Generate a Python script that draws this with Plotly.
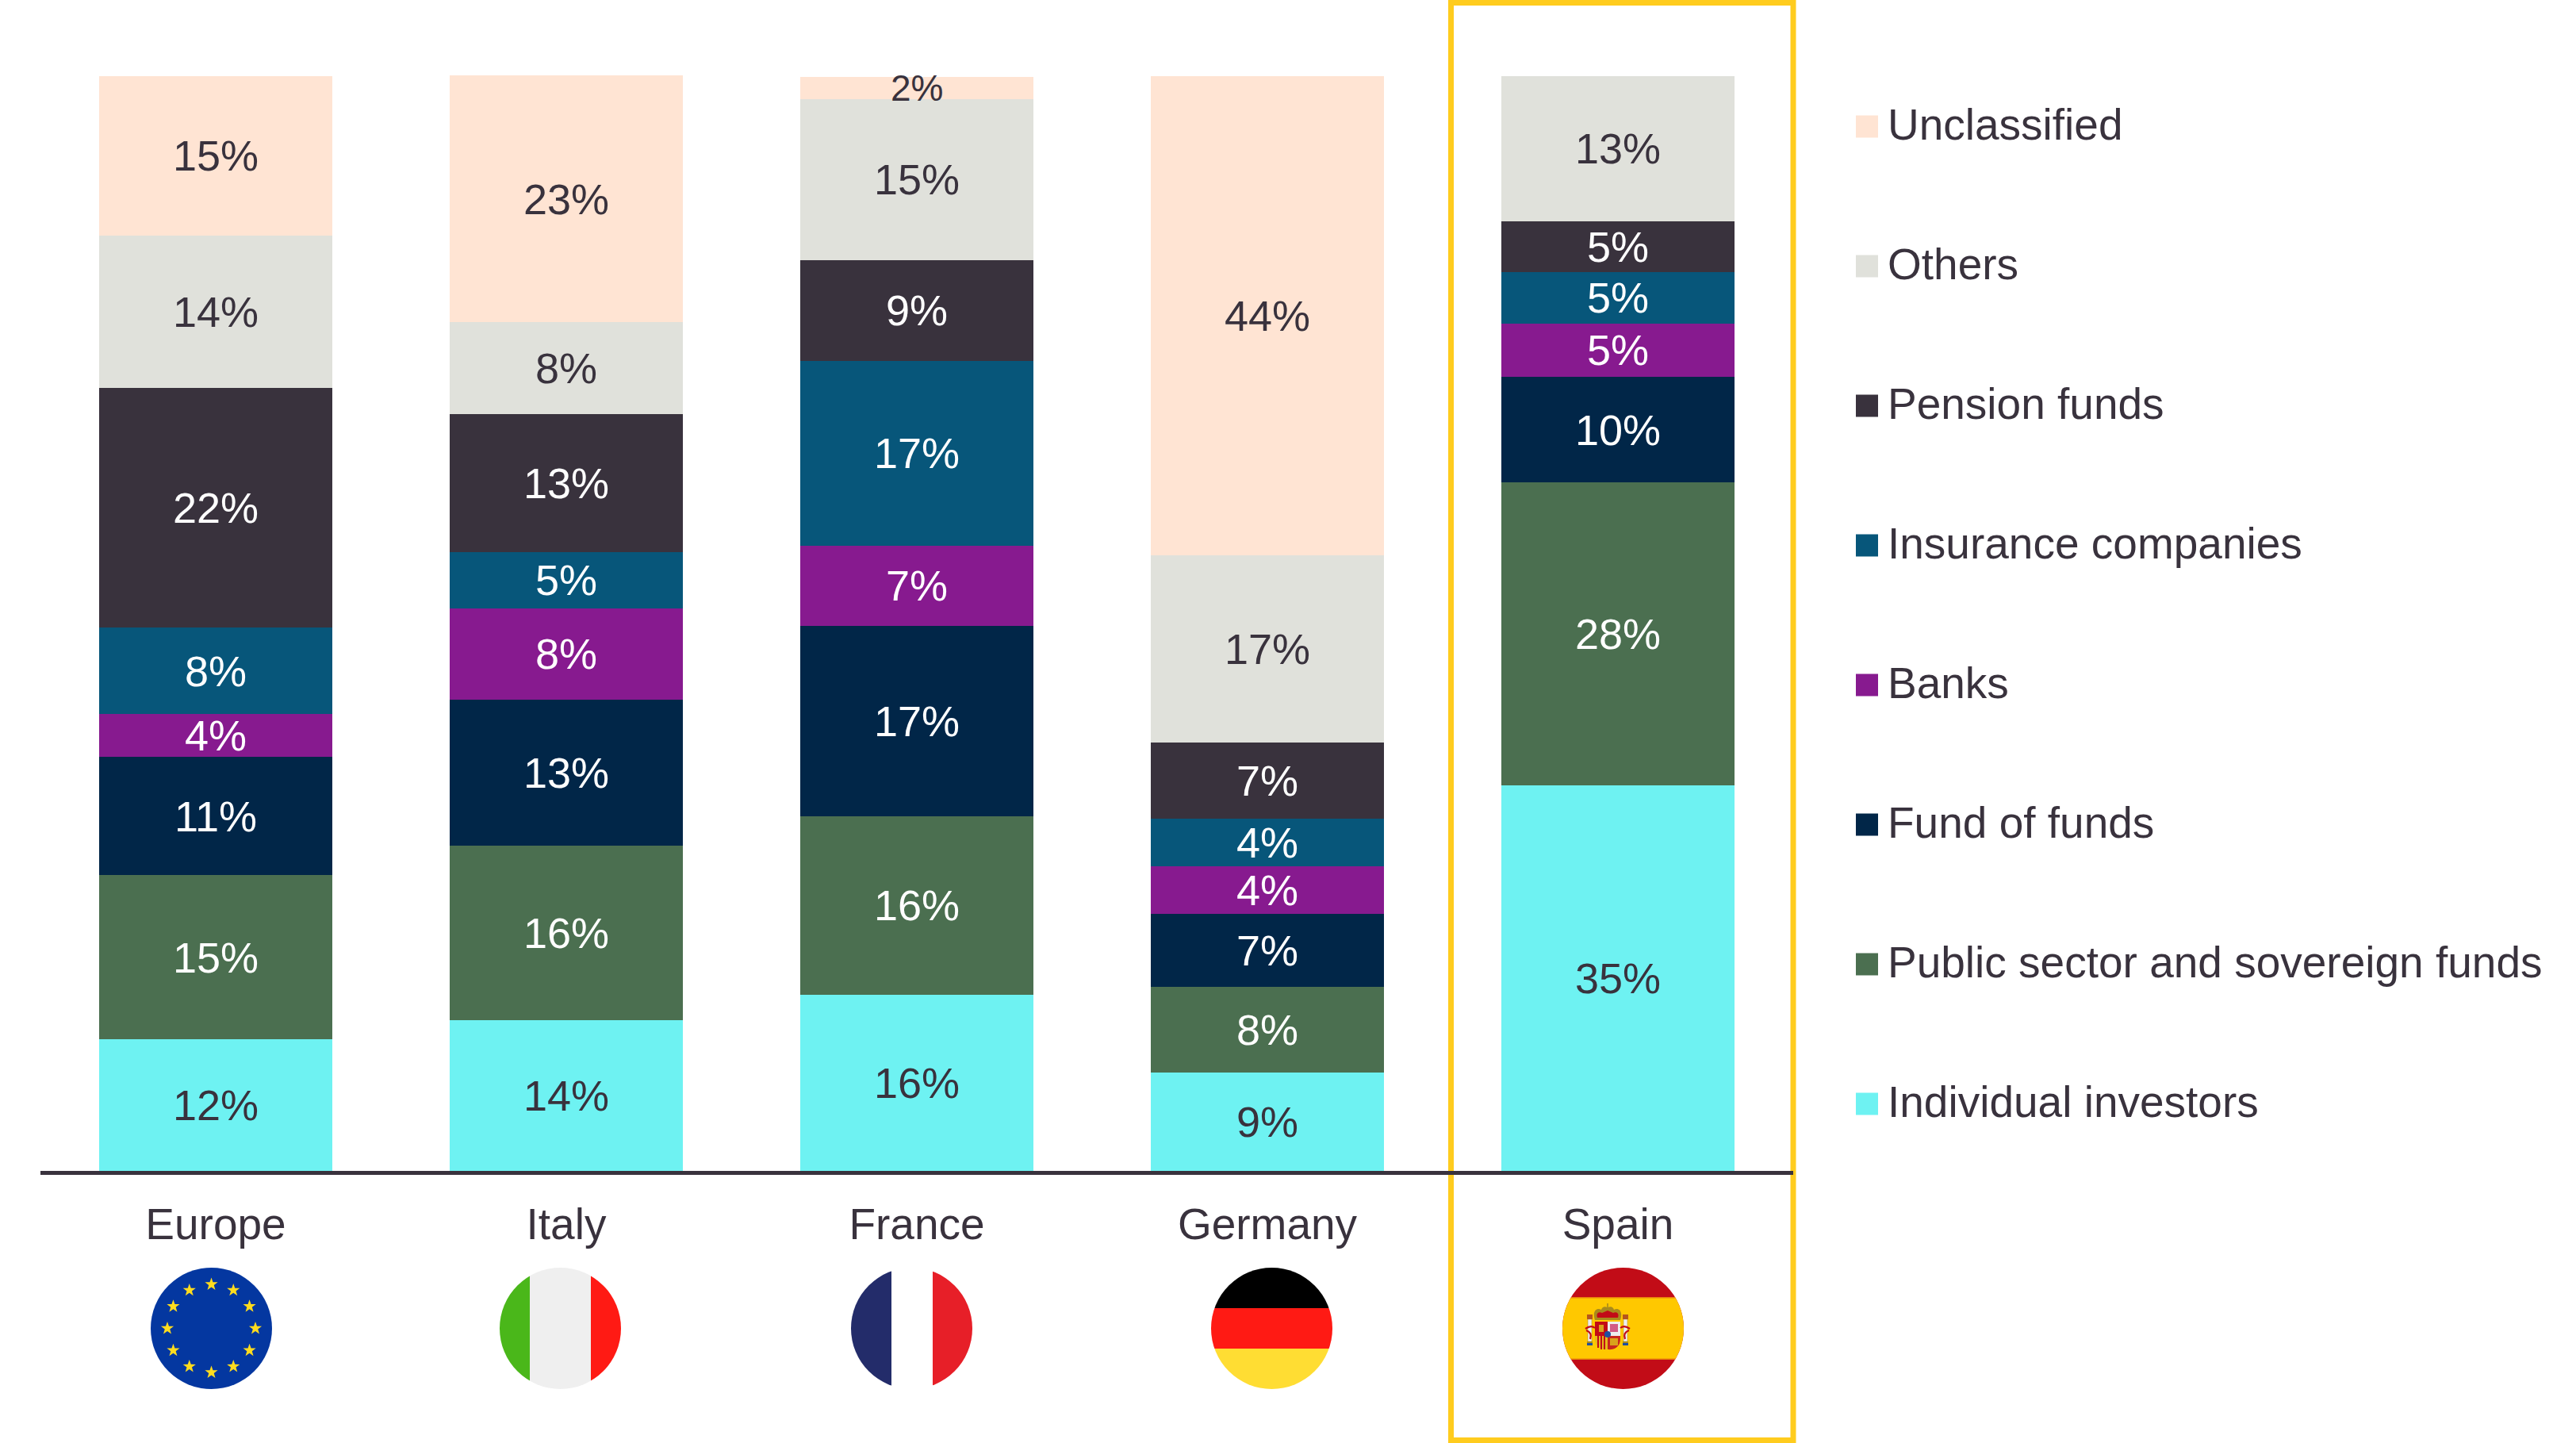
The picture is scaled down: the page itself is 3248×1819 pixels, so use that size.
import base64
import math
import plotly.graph_objects as go

W, H = 3248, 1819
FONT = "Liberation Sans"
INK = "#39323d"

# Data (share of holdings, %)
countries = ["Europe", "Italy", "France", "Germany", "Spain"]
individual = [12.0, 13.8, 16.1, 9.0, 35.2]
public_sector = [15.0, 15.9, 16.3, 7.8, 27.7]
fund_of_funds = [10.8, 13.3, 17.4, 6.7, 9.6]
banks = [3.9, 8.4, 7.3, 4.3, 4.9]
insurance = [7.9, 5.1, 16.9, 4.4, 4.7]
pension = [21.9, 12.6, 9.2, 6.9, 4.6]
others = [13.9, 8.4, 14.7, 17.1, 13.3]
unclassified = [14.6, 22.52, 2.0, 43.8, 0]

series_names = ["Individual investors", "Public sector and sovereign funds", "Fund of funds", "Banks",
                "Insurance companies", "Pension funds", "Others", "Unclassified"]
series_values = [individual, public_sector, fund_of_funds, banks, insurance, pension, others, unclassified]
series_colors = ["#6ef2f2", "#4b6f50", "#012648", "#871a8f", "#07567a", "#39323d", "#e0e1db", "#ffe4d3"]
label_colors = [INK, "white", "white", "white", "white", "white", INK, INK]


def px_x(x):
    return x / W


def px_y(y):
    return 1 - y / H


fig = go.Figure()

# Stacked bars
# segments too thin for the 54px label get a smaller annotation further down
SMALL_SEGMENT = 3
for name, values, color, label_color in zip(series_names, series_values, series_colors, label_colors):
    fig.add_trace(go.Bar(
        x=countries,
        y=values,
        name=name,
        marker=dict(color=color, line=dict(width=0)),
        text=[f"{v:.0f}%" if v > SMALL_SEGMENT else "" for v in values],
        textposition="inside",
        insidetextanchor="middle",
        textangle=0,
        textfont=dict(color=label_color, size=54, family=FONT),
        cliponaxis=False,
        showlegend=False,
    ))

annotations = []
for i, country in enumerate(countries):
    base = 0
    for values in series_values:
        v = values[i]
        if 0 < v <= SMALL_SEGMENT:
            annotations.append(dict(x=country, y=base + v / 2, xref="x", yref="y", text=f"{v:.0f}%", showarrow=False,
                                    font=dict(size=46, color=INK, family=FONT)))
        base += v

# Legend drawn on its own axes so the swatches can be as large as in the original
fig.add_trace(go.Scatter(
    x=[0] * len(series_names),
    y=series_names,
    mode="markers",
    marker=dict(symbol="square", size=28, color=series_colors, line=dict(width=0)),
    xaxis="x2",
    yaxis="y2",
    cliponaxis=False,
    showlegend=False,
))
for name in series_names:
    annotations.append(dict(x=24, y=name, xref="x2", yref="y2", text=name, showarrow=False, xanchor="left",
                            yshift=3, font=dict(size=55, color=INK, family=FONT)))


def circle_svg(body):
    svg = ('<svg xmlns="http://www.w3.org/2000/svg" width="306" height="306" viewBox="0 0 153 153">'
           '<defs><clipPath id="c"><circle cx="76.5" cy="76.5" r="76.5"/></clipPath></defs>'
           f'<g clip-path="url(#c)">{body}</g></svg>')
    return "data:image/svg+xml;base64," + base64.b64encode(svg.encode()).decode()


def star(cx, cy, r, color):
    pts = []
    for i in range(10):
        rad = r if i % 2 == 0 else r * 0.4
        a = -math.pi / 2 + i * math.pi / 5
        pts.append(f"{cx + rad * math.cos(a):.2f},{cy + rad * math.sin(a):.2f}")
    return f'<polygon points="{" ".join(pts)}" fill="{color}"/>'


eu_body = '<rect width="153" height="153" fill="#0437a0"/>'
for k in range(12):
    a = k * math.pi / 6
    eu_body += star(76.5 + 55.5 * math.sin(a), 76.5 - 55.5 * math.cos(a), 8.5, "#ffdc1e")

italy_body = ('<rect width="38" height="153" fill="#4ab71a"/><rect x="38" width="77" height="153" fill="#efefef"/>'
              '<rect x="115" width="38" height="153" fill="#ff1a14"/>')
france_body = ('<rect width="51" height="153" fill="#232c6a"/><rect x="51" width="52" height="153" fill="#ffffff"/>'
               '<rect x="103" width="50" height="153" fill="#e71f28"/>')
germany_body = ('<rect width="153" height="51" fill="#000000"/><rect y="51" width="153" height="51" fill="#ff1a14"/>'
                '<rect y="102" width="153" height="51" fill="#ffdd33"/>')
# Spanish crest kept simple: crown, quartered shield, two pillars
spain_body = ('<rect width="153" height="153" fill="#c20c17"/>'
              '<rect y="38" width="153" height="77" fill="#ffc800"/>'
              '<rect y="37" width="153" height="1.5" fill="#e8800c"/><rect y="114.5" width="153" height="1.5" fill="#e8800c"/>'
              # crown
              '<path d="M41 66 C37 54 44 50 49 53 C50 49 54 48 57 50.5 C60 48 64 49 65 53 C70 50 77 54 73 66 Z" fill="#a88a1c"/>'
              '<path d="M44 63 C42 57 46 55 50 57 L57 54 L64 57 C68 55 72 57 70 63 Z" fill="#c20c17"/>'
              '<rect x="56.2" y="45" width="1.6" height="6" fill="#a88a1c"/>'
              # shield
              '<rect x="41" y="68" width="16" height="18" fill="#c20c17"/><rect x="57" y="68" width="16" height="18" fill="#eeeeee"/>'
              '<path d="M41 86 H57 V103 C49 104 41 100 41 90 Z" fill="#e5b81c"/>'
              '<path d="M57 86 H73 V90 C73 100 65 104 57 103 Z" fill="#c9261d"/>'
              '<rect x="44" y="86" width="2" height="15" fill="#c20c17"/><rect x="48" y="86" width="2" height="17" fill="#c20c17"/>'
              '<rect x="52" y="86" width="2" height="17" fill="#c20c17"/>'
              '<rect x="46" y="72" width="6" height="9" fill="#d9a21b"/><rect x="60" y="71" width="10" height="10" fill="#d25a86"/>'
              '<rect x="60" y="89" width="10" height="9" fill="#d9a21b"/>'
              '<circle cx="57" cy="84" r="4" fill="#1f4fa0"/>'
              # pillars and ribbons
              '<rect x="32" y="65" width="5" height="28" fill="#eeeeee" stroke="#a88a1c" stroke-width=".5"/>'
              '<rect x="77" y="65" width="5" height="28" fill="#eeeeee" stroke="#a88a1c" stroke-width=".5"/>'
              '<rect x="31" y="59" width="7" height="6" fill="#b5561c"/><rect x="76" y="59" width="7" height="6" fill="#b5561c"/>'
              '<rect x="31" y="93" width="7" height="2" fill="#a88a1c"/><rect x="76" y="93" width="7" height="2" fill="#a88a1c"/>'
              '<rect x="31" y="95" width="7" height="3" fill="#1f4fa0"/><rect x="76" y="95" width="7" height="3" fill="#1f4fa0"/>'
              '<path d="M29 77 Q36 72 41 76 M30 79 Q38 82 35 90" stroke="#c20c17" stroke-width="2.2" fill="none"/>'
              '<path d="M85 77 Q78 72 73 76 M84 79 Q76 82 79 90" stroke="#c20c17" stroke-width="2.2" fill="none"/>')

flag_bodies = [eu_body, italy_body, france_body, germany_body, spain_body]
flag_left = [190, 630, 1073, 1527, 1970]
images = [dict(source=circle_svg(body), xref="paper", yref="paper", x=px_x(left), y=px_y(1598),
               sizex=153 / W, sizey=153 / H, xanchor="left", yanchor="top", sizing="stretch", layer="above")
          for body, left in zip(flag_bodies, flag_left)]

fig.update_layout(
    width=W,
    height=H,
    autosize=False,
    margin=dict(l=0, r=0, t=0, b=0),
    barmode="stack",
    bargap=0.335,
    paper_bgcolor="white",
    plot_bgcolor="white",
    font=dict(family=FONT, color=INK, size=54),
    uniformtext=dict(minsize=54, mode="show"),
    images=images,
    annotations=annotations,
    shapes=[dict(type="rect", xref="paper", yref="paper", layer="below",
                 x0=px_x(1829.5), x1=px_x(2261), y0=px_y(3.5), y1=px_y(1815.5),
                 line=dict(color="#ffcc1e", width=7), fillcolor="rgba(0,0,0,0)")],
    xaxis=dict(
        domain=[px_x(51), px_x(2261)],
        range=[-0.5, 4.5],
        showgrid=False,
        zeroline=False,
        showline=True,
        linecolor=INK,
        linewidth=5,
        ticks="",
        ticklabelstandoff=15,
        tickfont=dict(size=55, color=INK, family=FONT),
        fixedrange=True,
    ),
    yaxis=dict(
        domain=[px_y(1476), px_y(95)],
        range=[0, 100.05],
        visible=False,
        fixedrange=True,
    ),
    xaxis2=dict(
        domain=[px_x(2340), 1],
        range=[-14, 894],
        anchor="y2",
        visible=False,
        fixedrange=True,
    ),
    yaxis2=dict(
        domain=[px_y(1479.5), px_y(71.5)],
        range=[-0.5, 7.5],
        categoryorder="array",
        categoryarray=series_names,
        anchor="x2",
        visible=False,
        fixedrange=True,
    ),
)

fig.write_html("out.html", config=dict(displayModeBar=False), post_script="document.body.style.margin='0';")
